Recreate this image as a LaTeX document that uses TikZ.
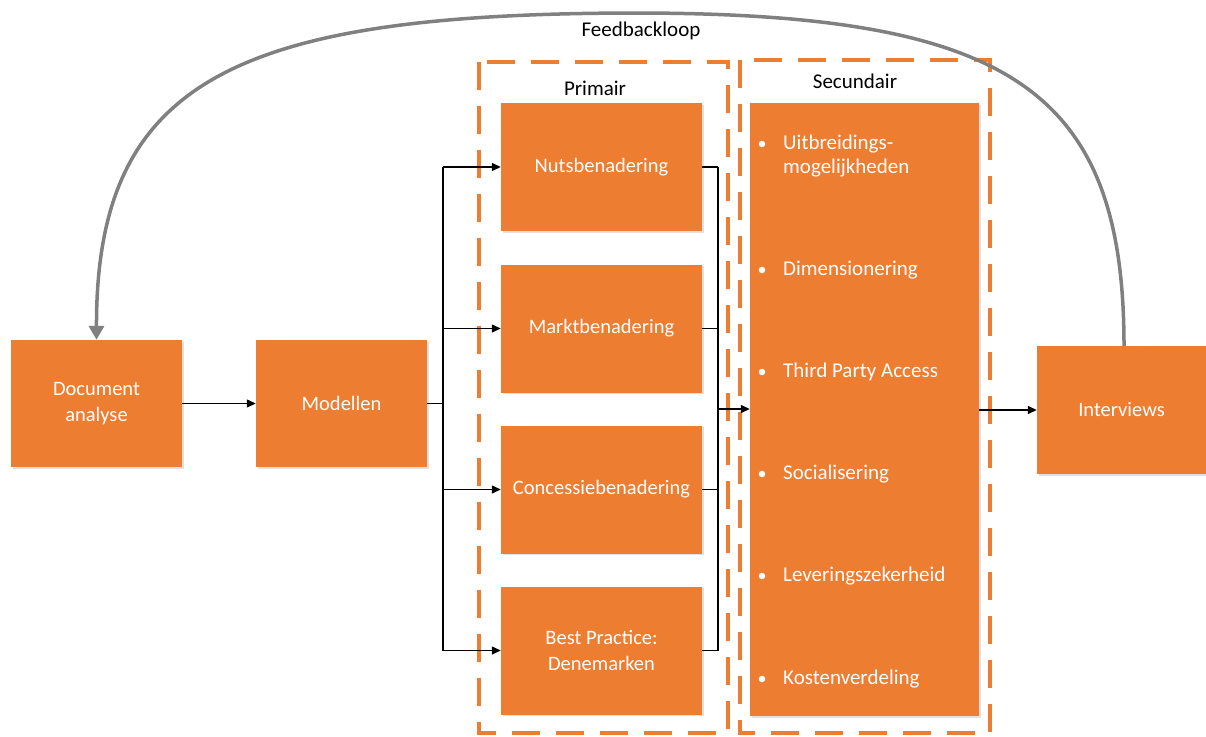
\documentclass[tikz,border=0pt]{standalone}
\usepackage{fontspec}
\setmainfont{Carlito}
\usetikzlibrary{arrows.meta,shadows}
\definecolor{boxorange}{RGB}{237,125,49}
\definecolor{loopgray}{RGB}{128,128,128}
\tikzset{
  block/.style={fill=boxorange, draw=none, text=white, align=center,
    font=\fontsize{20.5}{26}\selectfont, inner sep=0pt,
    drop shadow={shadow xshift=1.5pt, shadow yshift=-1.5pt, fill=black, opacity=0.12}},
  conn/.style={line width=1.3pt, black},
  arr/.style={conn, -{Triangle[length=9pt,width=8pt]}},
  group/.style={draw=boxorange, line width=3.5pt, dash pattern=on 28pt off 16pt},
  caption/.style={font=\fontsize{21}{24}\selectfont, text=black},
  item/.style={font=\fontsize{21}{24}\selectfont, text=white, anchor=west, align=left, inner sep=0pt},
  bullet/.style={circle, fill=white, inner sep=0pt, minimum size=6.5pt}
}
\begin{document}
\begin{tikzpicture}[x=1pt,y=-1pt]
\useasboundingbox (0,0) rectangle (1206,736);

% dashed group frames
\draw[group] (479,62) rectangle (728,733);
\draw[group] (740,60) rectangle (990,733);
\node[caption] (primair) at (595,88) {Primair};
\node[caption] (secundair) at (855,81) {Secundair};

% main blocks
\node[block, minimum width=171pt, minimum height=127pt] (doc) at (96.5,403.5) {Document\\analyse};
\node[block, minimum width=171pt, minimum height=127pt] (mod) at (341.5,403.5) {Modellen};
\node[block, minimum width=201pt, minimum height=128pt] (nuts) at (601.5,167) {Nutsbenadering};
\node[block, minimum width=201pt, minimum height=128pt] (markt) at (601.5,328.5) {Marktbenadering};
\node[block, minimum width=201pt, minimum height=128pt] (conc) at (601.5,489.5) {Concessiebenadering};
\node[block, minimum width=201pt, minimum height=128pt] (best) at (601.5,650.5) {Best Practice:\\Denemarken};
\node[block, minimum width=229pt, minimum height=613pt] (sec) at (864.5,409.5) {};
\node[block, minimum width=169pt, minimum height=128pt] (int) at (1121.5,410) {Interviews};

% secondary criteria, one bullet per item
\foreach \k/\yy in {1/144, 2/270, 3/372, 4/474, 5/576, 6/679}{
  \node[bullet] (b\k) at (762,\yy) {};
}
\node[item] (i1) at (783,156) {Uitbreidings-\\mogelijkheden};
\node[item] (i2) at (783,270) {Dimensionering};
\node[item] (i3) at (783,372) {Third Party Access};
\node[item] (i4) at (783,474) {Socialisering};
\node[item] (i5) at (783,576) {Leveringszekerheid};
\node[item] (i6) at (783,679) {Kostenverdeling};

% splitting connectors
\coordinate (split) at (443,403.5);
\coordinate (join) at (718,409);
\draw[arr] (doc) -- (mod);
\draw[conn] (mod.east) -- (split);
\draw[conn] (split |- nuts) -- (split |- best);
\foreach \n in {nuts,markt,conc,best}{
  \draw[arr] (split |- \n) -- (\n.west);
  \draw[conn] (\n.east) -- (join |- \n);
}
\draw[conn] (join |- nuts) -- (join |- best);
\draw[arr] (join) -- (join -| sec.west);
\draw[arr] (sec.east |- int) -- (int.west);

% feedback loop
\draw[line width=3.5pt, loopgray, -{Triangle[length=14pt,width=15pt]}]
  (1124,346) .. controls (1124,90) and (1010,14) .. (640,13)
  .. controls (235,13) and (96,80) .. (doc.north);
\node[caption] (fb) at (641,31) {Feedbackloop};
\end{tikzpicture}
\end{document}
